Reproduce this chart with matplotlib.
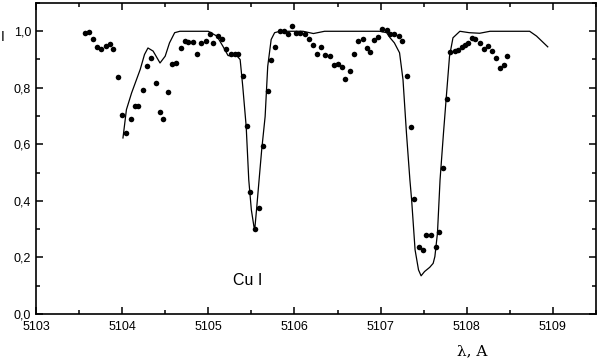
import matplotlib.pyplot as plt
from matplotlib.ticker import MultipleLocator, FuncFormatter

# observed profile (dots)
obs_wl = [5103.57, 5103.62, 5103.66, 5103.71, 5103.76, 5103.81, 5103.86, 5103.90,
          5103.95, 5104.00, 5104.05, 5104.10, 5104.15, 5104.19, 5104.24, 5104.29,
          5104.34, 5104.39, 5104.44, 5104.48, 5104.53, 5104.58, 5104.63, 5104.68,
          5104.73, 5104.77, 5104.82, 5104.87, 5104.92, 5104.97, 5105.02, 5105.06,
          5105.11, 5105.16, 5105.21, 5105.26, 5105.31, 5105.35, 5105.40, 5105.45,
          5105.49, 5105.54, 5105.59, 5105.64, 5105.69, 5105.73, 5105.78, 5105.83,
          5105.88, 5105.93, 5105.97, 5106.02, 5106.07, 5106.12, 5106.17, 5106.22,
          5106.26, 5106.31, 5106.36, 5106.41, 5106.46, 5106.51, 5106.55, 5106.59,
          5106.64, 5106.69, 5106.74, 5106.79, 5106.84, 5106.88, 5106.92, 5106.97,
          5107.02, 5107.07, 5107.11, 5107.16, 5107.21, 5107.25, 5107.31, 5107.35,
          5107.39, 5107.44, 5107.49, 5107.53, 5107.58, 5107.64, 5107.68, 5107.73,
          5107.77, 5107.81, 5107.86, 5107.90, 5107.94, 5107.98, 5108.01, 5108.06,
          5108.10, 5108.15, 5108.20, 5108.25, 5108.29, 5108.34, 5108.38, 5108.43,
          5108.47]
obs_I = [0.993, 0.996, 0.970, 0.943, 0.935, 0.946, 0.955, 0.935,
         0.838, 0.702, 0.640, 0.690, 0.736, 0.734, 0.793, 0.876,
         0.905, 0.817, 0.713, 0.690, 0.785, 0.885, 0.887, 0.940,
         0.966, 0.962, 0.960, 0.919, 0.958, 0.966, 0.988, 0.958,
         0.982, 0.970, 0.935, 0.920, 0.919, 0.919, 0.842, 0.663,
         0.431, 0.301, 0.374, 0.595, 0.787, 0.896, 0.943, 0.999,
         0.999, 0.988, 1.017, 0.994, 0.994, 0.988, 0.973, 0.952,
         0.917, 0.944, 0.914, 0.911, 0.879, 0.885, 0.873, 0.831,
         0.860, 0.917, 0.966, 0.973, 0.940, 0.925, 0.967, 0.978,
         1.007, 1.005, 0.988, 0.988, 0.982, 0.964, 0.842, 0.660,
         0.407, 0.236, 0.227, 0.280, 0.280, 0.236, 0.289, 0.516,
         0.761, 0.926, 0.928, 0.934, 0.943, 0.950, 0.958, 0.976,
         0.972, 0.958, 0.935, 0.946, 0.928, 0.905, 0.870, 0.879,
         0.913]

# synthetic profile (line)
syn_wl = [5104.01, 5104.05, 5104.11, 5104.21, 5104.26, 5104.30, 5104.36, 5104.44,
          5104.50, 5104.55, 5104.61, 5104.67, 5105.00, 5105.10, 5105.17, 5105.23,
          5105.33, 5105.37, 5105.40, 5105.44, 5105.47, 5105.50, 5105.53, 5105.54,
          5105.56, 5105.60, 5105.62, 5105.66, 5105.69, 5105.73, 5105.77, 5105.83,
          5106.10, 5106.22, 5106.35, 5106.99, 5107.07, 5107.11, 5107.16, 5107.22,
          5107.26, 5107.30, 5107.34, 5107.36, 5107.40, 5107.44, 5107.47, 5107.51,
          5107.57, 5107.61, 5107.63, 5107.66, 5107.69, 5107.73, 5107.76, 5107.80,
          5107.84, 5107.92, 5108.03, 5108.15, 5108.27, 5108.73, 5108.81, 5108.94]
syn_I = [0.622, 0.722, 0.781, 0.864, 0.917, 0.940, 0.929, 0.887,
         0.911, 0.958, 0.994, 0.999, 0.999, 0.982, 0.946, 0.913,
         0.913, 0.899, 0.805, 0.663, 0.474, 0.368, 0.309, 0.301,
         0.368, 0.510, 0.580, 0.698, 0.875, 0.970, 0.994, 0.999,
         0.999, 0.991, 0.999, 0.999, 0.994, 0.976, 0.958, 0.923,
         0.828, 0.640, 0.474, 0.404, 0.227, 0.156, 0.135, 0.150,
         0.165, 0.179, 0.203, 0.286, 0.474, 0.640, 0.757, 0.911,
         0.976, 0.999, 0.994, 0.992, 0.999, 0.999, 0.982, 0.944]

plt.rcParams['font.family'] = ['Liberation Sans', 'DejaVu Sans']

fig = plt.figure(figsize=(5.99, 3.59), dpi=100)
ax = fig.add_axes([0.060, 0.1253, 0.935, 0.8672])

ax.plot(syn_wl, syn_I, color='black', lw=0.9)
ax.plot(obs_wl, obs_I, 'o', color='black', ms=4, mec='none')

ax.set_xlim(5103, 5109.5)
ax.set_ylim(0, 1.1)
ax.xaxis.set_major_locator(MultipleLocator(1))
ax.xaxis.set_minor_locator(MultipleLocator(0.5))
ax.yaxis.set_major_locator(MultipleLocator(0.2))
ax.yaxis.set_minor_locator(MultipleLocator(0.1))
ax.xaxis.set_major_formatter(FuncFormatter(lambda v, p: '%d' % round(v)))
ax.yaxis.set_major_formatter(FuncFormatter(lambda v, p: ('%.1f' % v).replace('.', ',')))
ax.tick_params(which='both', direction='in', top=True, right=True, width=1.1, labelsize=9)
ax.tick_params(which='major', length=5)
ax.tick_params(which='minor', length=3)
ax.tick_params(axis='x', pad=5)
for s in ax.spines.values():
    s.set_linewidth(1.2)

ax.text(5105.46, 0.12, 'Cu I', fontsize=11.5, ha='center', va='center')
fig.text(471.7 / 599, 1 - 351.7 / 359, 'λ, A', family='DejaVu Serif', fontsize=11,
         ha='center', va='center')
fig.text(3 / 599, 1 - 37 / 359, 'I', fontsize=10, ha='center', va='center')

plt.savefig('out.png', dpi=100)
